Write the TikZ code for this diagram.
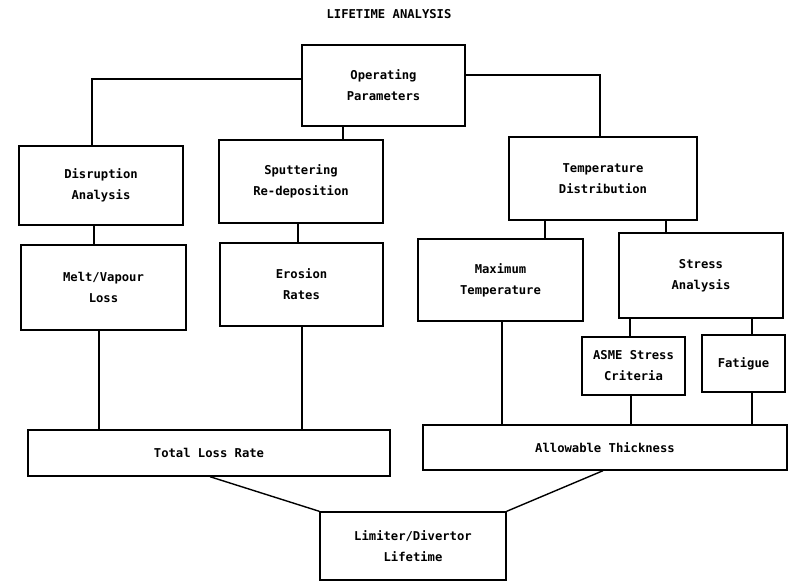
\documentclass[tikz,border=0pt]{standalone}
\usepackage{fontspec}
\setmonofont{DejaVu Sans Mono}
\usepackage{tikz}
\usetikzlibrary{positioning,calc}

\begin{document}
\begin{tikzpicture}[
  x=1pt,y=-1pt,
  every node/.style={font=\ttfamily\bfseries\fontsize{12.2}{21}\selectfont},
  stage/.style={rectangle,draw,line width=1.4pt,align=center,inner sep=2pt,minimum width=#1},
  link/.style={line width=1.4pt},
]
\useasboundingbox (0,0) rectangle (806,584);

% ==== TITLE ====
\node (title) at (389,14) {LIFETIME ANALYSIS};

% ==== TOP ====
\node[stage=163pt,minimum height=81pt] (oper) at (383.5,85.5) {Operating\\Parameters};

% ==== SECOND ROW ====
\node[stage=164pt,minimum height=79pt] (disr) at (101,185.5) {Disruption\\Analysis};
\node[stage=164pt,minimum height=83pt] (sput) at (301,181.5) {Sputtering\\Re-deposition};
\node[stage=188pt,minimum height=83pt] (tdist) at (603,178.5) {Temperature\\Distribution};

% ==== THIRD ROW ====
\node[stage=165pt,minimum height=85pt] (melt) at (103.5,287.5) {Melt/Vapour\\Loss};
\node[stage=163pt,minimum height=83pt] (eros) at (301.5,284.5) {Erosion\\Rates};
\node[stage=165pt,minimum height=82pt] (tmax) at (500.5,280) {Maximum\\Temperature};
\node[stage=164pt,minimum height=85pt] (stress) at (701,275.5) {Stress\\Analysis};

% stress sub-checks
\node[stage=103pt,minimum height=58pt] (asme) at (633.5,366) {ASME Stress\\Criteria};
\node[stage=83pt,minimum height=57pt] (fatig) at (743.5,363.5) {Fatigue};

% ==== COMBINED RESULTS ====
\node[stage=362pt,minimum height=46pt] (loss) at (209,453) {Total Loss Rate};
\node[stage=364pt,minimum height=45pt] (thick) at (605,447.5) {Allowable Thickness};
\node[stage=186pt,minimum height=68pt] (life) at (413,546) {Limiter/Divertor\\Lifetime};

% ==== CONNECTIONS ====
\draw[link] ([yshift=6.5pt]oper.west) -| ([xshift=-9pt]disr.north);
\draw[link] ([yshift=10.5pt]oper.east) -| ([xshift=-3pt]tdist.north);
\draw[link] ([xshift=-40.5pt]oper.south) -- ([xshift=-40.5pt]oper.south |- sput.north);

\draw[link] ([xshift=-7pt]disr.south) -- ([xshift=-7pt]disr.south |- melt.north);
\draw[link] ([xshift=-3pt]sput.south) -- ([xshift=-3pt]sput.south |- eros.north);
\draw[link] ([xshift=-58pt]tdist.south) -- ([xshift=-58pt]tdist.south |- tmax.north);
\draw[link] ([xshift=63pt]tdist.south) -- ([xshift=63pt]tdist.south |- stress.north);
\draw[link] ([xshift=-71pt]stress.south) -- ([xshift=-71pt]stress.south |- asme.north);
\draw[link] ([xshift=51pt]stress.south) -- ([xshift=51pt]stress.south |- fatig.north);

\draw[link] ([xshift=-4.5pt]melt.south) -- ([xshift=-4.5pt]melt.south |- loss.north);
\draw[link] ([xshift=0.5pt]eros.south) -- ([xshift=0.5pt]eros.south |- loss.north);
\draw[link] ([xshift=1.5pt]tmax.south) -- ([xshift=1.5pt]tmax.south |- thick.north);
\draw[link] ([xshift=-2.5pt]asme.south) -- ([xshift=-2.5pt]asme.south |- thick.north);
\draw[link] ([xshift=8.5pt]fatig.south) -- ([xshift=8.5pt]fatig.south |- thick.north);

\draw[link] ([xshift=1pt]loss.south) -- (life.north west);
\draw[link] ([xshift=-2pt]thick.south) -- (life.north east);

\end{tikzpicture}
\end{document}
